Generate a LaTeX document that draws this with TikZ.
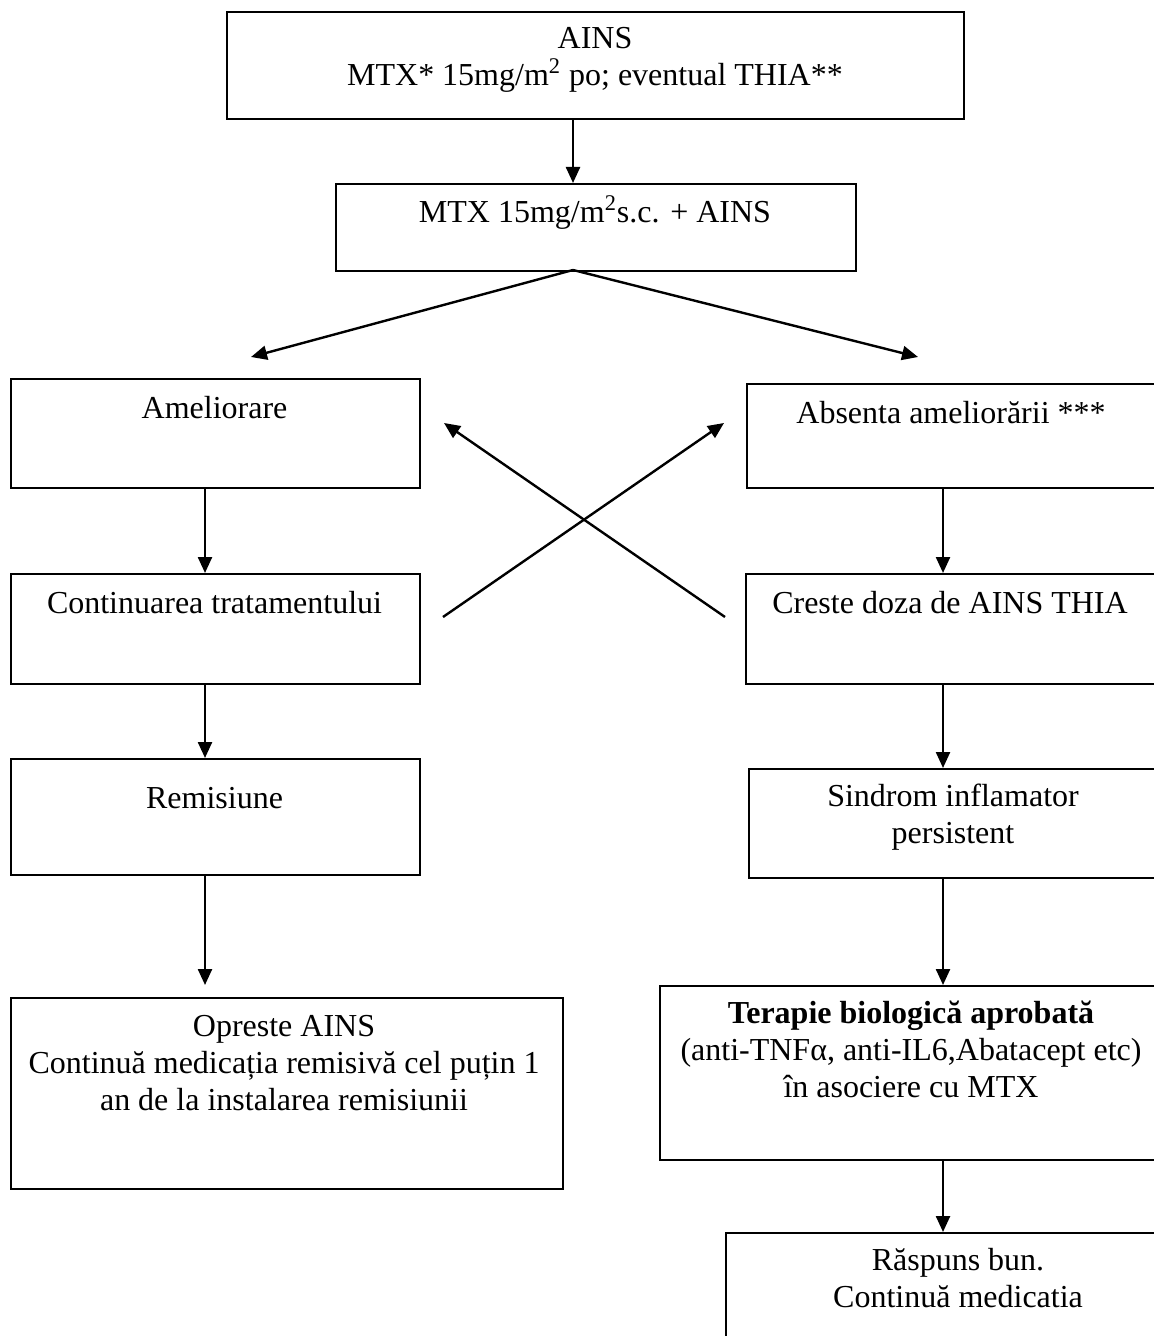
\documentclass[tikz,border=0pt]{standalone}
\usepackage{fontspec}
\setmainfont{Liberation Serif}
\usetikzlibrary{arrows.meta}

\begin{document}
\begin{tikzpicture}[
    x=0.5pt, y=-0.5pt,
    box/.style={rectangle, draw=black, line width=1pt, inner sep=0pt, anchor=north west},
    lbl/.style={align=center, inner sep=0pt, anchor=base, font=\fontsize{16pt}{18.5pt}\selectfont},
    arr/.style={-{Triangle[length=8pt, width=7pt]}, line width=1.2pt},
]
\useasboundingbox (0,0) rectangle (1154,1336);
\clip (0,0) rectangle (1154,1336);
% START (multi-line labels sit on their last baseline)
\node[box, minimum width=368.5pt, minimum height=53.5pt] (start) at (226,11) {};
\node[lbl] (startT) at (595,86) {AINS\\MTX* 15mg/m\textsuperscript{2} po; eventual THIA**};
\node[box, minimum width=260pt, minimum height=43.5pt] (mtx) at (335,183) {};
\node[lbl] (mtxT) at (595,223) {MTX 15mg/m\textsuperscript{2}s.c. + AINS};
% LEFT BRANCH
\node[box, minimum width=204.5pt, minimum height=54.5pt] (amel) at (10,378) {};
\node[lbl] (amelT) at (214.5,418) {Ameliorare};
\node[box, minimum width=204.5pt, minimum height=55pt] (cont) at (10,573) {};
\node[lbl] (contT) at (214.5,613) {Continuarea tratamentului};
\node[box, minimum width=204.5pt, minimum height=58pt] (remis) at (10,758) {};
\node[lbl] (remisT) at (214.5,808) {Remisiune};
\node[box, minimum width=276pt, minimum height=95.5pt] (stop) at (10,997) {};
\node[lbl] (stopT) at (284,1110) {Opreste AINS\\Continuă medicația remisivă cel puțin 1\\an de la instalarea remisiunii};
% RIGHT BRANCH
\node[box, minimum width=207pt, minimum height=52pt] (absent) at (746,383) {};
\node[lbl] (absentT) at (951,423) {Absenta ameliorării ***};
\node[box, minimum width=207.5pt, minimum height=55pt] (dose) at (745,573) {};
\node[lbl] (doseT) at (950,613) {Creste doza de AINS THIA};
\node[box, minimum width=206pt, minimum height=54.5pt] (sind) at (748,768) {};
\node[lbl] (sindT) at (953,843) {Sindrom inflamator\\persistent};
\node[box, minimum width=253pt, minimum height=87pt] (bio) at (659,985) {};
\node[lbl] (bioT) at (911,1097) {\textbf{Terapie biologică aprobată}\\(anti-TNFα, anti-IL6,Abatacept etc)\\în asociere cu MTX};
\node[box, minimum width=232.5pt, minimum height=60pt] (resp) at (725,1232) {};
\node[lbl] (respT) at (958,1307) {Răspuns bun.\\Continuă medicatia};
% CONNECTORS
\coordinate (split) at (573,270);
\coordinate (tipL) at (251,357);
\coordinate (tipR) at (918,357);
\coordinate (colL) at (205,0);
\coordinate (colR) at (943,0);
\coordinate (crossA) at (443,617);
\coordinate (crossB) at (724,423);
\coordinate (crossC) at (725,617);
\coordinate (crossD) at (444,423);
\draw[arr] (start.south -| split) -- (mtx.north -| split);
\draw[arr] (split) -- (tipL);
\draw[arr] (split) -- (tipR);
\draw[arr] (amel.south -| colL) -- (cont.north -| colL);
\draw[arr] (cont.south -| colL) -- (remis.north -| colL);
\draw[arr, shorten >=6pt] (remis.south -| colL) -- (stop.north -| colL);
\draw[arr] (absent.south -| colR) -- (dose.north -| colR);
\draw[arr] (dose.south -| colR) -- (sind.north -| colR);
\draw[arr] (sind.south -| colR) -- (bio.north -| colR);
\draw[arr] (bio.south -| colR) -- (resp.north -| colR);
\draw[arr] (crossA) -- (crossB);
\draw[arr] (crossC) -- (crossD);
\end{tikzpicture}
\end{document}
